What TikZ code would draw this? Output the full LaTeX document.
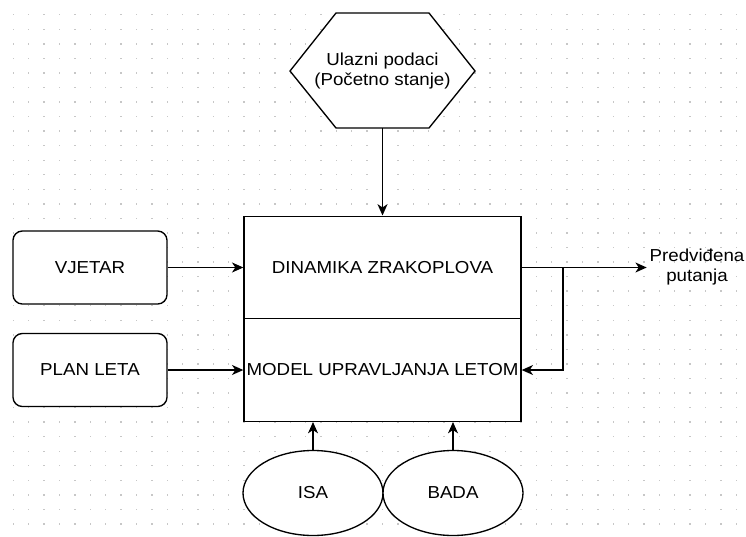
\documentclass[tikz,border=0pt]{standalone}
\usepackage{fontspec}
\setmainfont{Liberation Sans}[FakeStretch=1.08]
\usetikzlibrary{arrows.meta,shapes.geometric}

\begin{document}
\begin{tikzpicture}[x=0.75pt,y=-0.75pt,
  every node/.style={font=\fontsize{13}{15}\selectfont},
  tocka/.style={fill=black!22},
  blok/.style={draw,fill=white,line width=1pt,minimum width=207.75pt,minimum height=77pt,inner sep=0pt},
  ulazbox/.style={draw,fill=white,rounded corners=7pt,line width=1pt,minimum width=115.5pt,minimum height=54.75pt},
  oval/.style={draw,fill=white,ellipse,line width=1pt,minimum width=105pt,minimum height=63.75pt,inner sep=0pt},
  strel/.style={-{Stealth[length=8.5pt,width=7.5pt,inset=2.5pt]},line width=1pt}]
  \fill[white] (0,0) rectangle (746,536);
  \useasboundingbox (0,0) rectangle (746,536);
  % grid
  \foreach \i in {0,...,47}
    \foreach \j in {0,...,35}
      \fill[tocka] (12.7+15.38*\i,14+14.55*\j) rectangle +(1.4,1.4);

  \draw[fill=white,line width=1pt] (290,71) -- (336,13) -- (429,13) -- (475,71) -- (429,128) -- (336,128) -- cycle;
  \node[align=center] (ulaz) at (382.5,71) {Ulazni podaci\\(Početno stanje)};
  \coordinate (hexdno) at (382.5,128);

  \node[blok] (dinamika) at (382.5,267.5) {DINAMIKA ZRAKOPLOVA};
  \node[blok] (model) at (382.5,370) {MODEL UPRAVLJANJA LETOM};

  \node[ulazbox] (vjetar) at (90,267.5) {VJETAR};
  \node[ulazbox] (plan) at (90,370) {PLAN LETA};

  \node[oval] (isa) at (313,493) {ISA};
  \node[oval] (bada) at (453,493) {BADA};

  \node[align=center,inner sep=2pt] (putanja) at (697,267.5) {Predviđena\\putanja};
  \coordinate (grana) at (563,267.5);

  \draw[strel] (hexdno) -- (dinamika.north);
  \draw[strel] (vjetar.east) -- (dinamika.west);
  \draw[strel] (plan.east) -- (model.west);
  \draw[strel] (dinamika.east) -- (putanja.west);
  \draw[strel] (grana) |- (model.east);
  \draw[strel] (isa.north) -- (isa.north |- model.south);
  \draw[strel] (bada.north) -- (bada.north |- model.south);
\end{tikzpicture}
\end{document}
